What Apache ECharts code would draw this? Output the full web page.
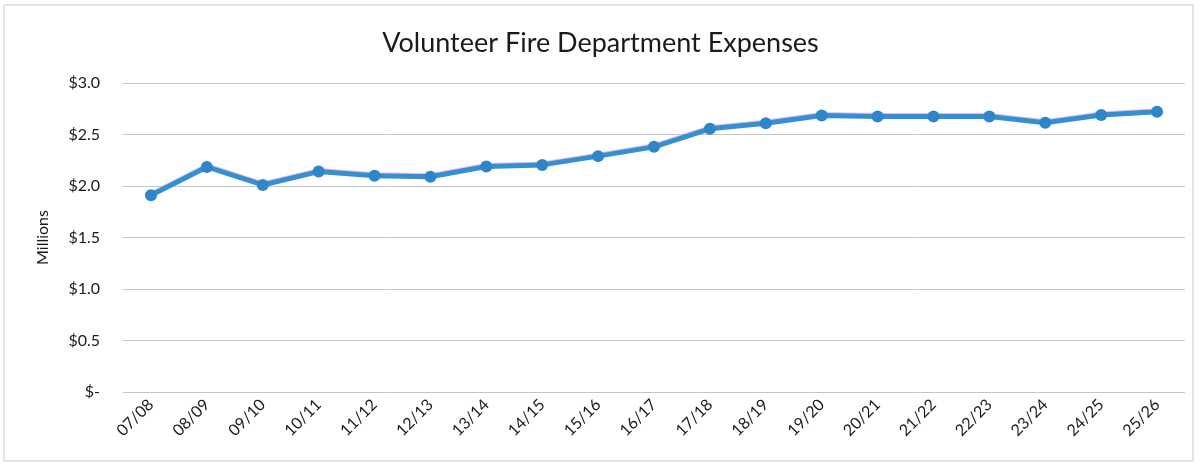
<!DOCTYPE html>
<html>
<head>
<meta charset="utf-8">
<script src="https://cdn.jsdelivr.net/npm/echarts@6/dist/echarts.min.js"></script>
<style>
  html, body { margin: 0; padding: 0; background: #fff; }
  #chart { width: 1201px; height: 466px; }
</style>
</head>
<body>
<div id="chart"></div>
<script>
// fiscal years
const years = ['07/08', '08/09', '09/10', '10/11', '11/12', '12/13', '13/14', '14/15', '15/16', '16/17',
  '17/18', '18/19', '19/20', '20/21', '21/22', '22/23', '23/24', '24/25', '25/26']
// expenses, millions of dollars
const expenses = [1.91, 2.185, 2.01, 2.14, 2.10, 2.09, 2.19, 2.205, 2.29, 2.38,
  2.555, 2.61, 2.685, 2.675, 2.675, 2.675, 2.615, 2.69, 2.72]
const yTicks = [0, 0.5, 1.0, 1.5, 2.0, 2.5, 3.0]

const chart = echarts.init(document.getElementById('chart'))
const font = 'Lato'

chart.setOption({
  animation: false,
  textStyle: { fontFamily: font },
  title: {
    text: 'Volunteer Fire Department Expenses',
    left: 'center',
    top: 25,
    textStyle: { fontFamily: font, fontSize: 27, fontWeight: 'normal', color: '#1a1a1a' }
  },
  graphic: [{
    type: 'rect',
    shape: { x: 4, y: 5, width: 1189, height: 456 },
    style: { fill: 'none', stroke: '#c8c8c8', lineWidth: 1 },
    silent: true
  }],
  grid: { left: 123, right: 16, top: 83, bottom: 74 },
  xAxis: {
    type: 'category',
    data: years,
    boundaryGap: true,
    axisLine: { show: false },
    axisTick: { show: false },
    axisLabel: { rotate: 45, fontSize: 16, color: '#1a1a1a', margin: 10, interval: 0 }
  },
  yAxis: {
    type: 'value',
    min: yTicks[0],
    max: yTicks[yTicks.length - 1],
    interval: 0.5,
    name: 'Millions',
    nameLocation: 'middle',
    nameGap: 72,
    nameTextStyle: { fontSize: 16, color: '#1a1a1a' },
    axisLine: { show: false },
    axisTick: { show: false },
    splitLine: { lineStyle: { color: '#c6c6c6', width: 1 } },
    axisLabel: {
      fontSize: 16,
      color: '#1a1a1a',
      margin: 23,
      formatter: v => v === 0 ? '$-' : '$' + v.toFixed(1)
    }
  },
  series: [{
    type: 'line',
    data: expenses,
    symbol: 'circle',
    symbolSize: 12,
    itemStyle: { color: '#2e86c9' },
    lineStyle: {
      width: 5,
      color: '#3590d2',
      shadowColor: 'rgba(210,130,220,0.55)',
      shadowOffsetY: -1,
      shadowBlur: 0
    }
  }]
})
</script>
</body>
</html>
